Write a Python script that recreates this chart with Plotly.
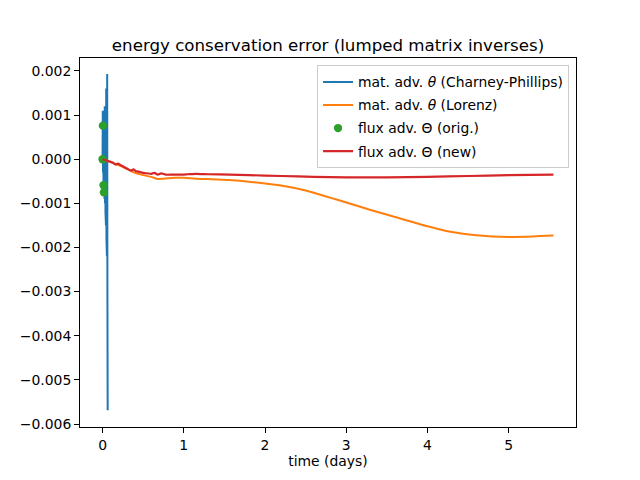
import plotly.graph_objects as go

# Charney-Phillips (material advection theta)
cp_t = [0.000, 0.003, 0.006, 0.009, 0.012, 0.015, 0.018, 0.021, 0.024, 0.027, 0.030,
        0.033, 0.036, 0.039, 0.042, 0.045, 0.048, 0.051, 0.054, 0.057, 0.060, 0.063]
cp_v = [0.0, 0.0011, -0.0003, 0.0006, -0.0006, 0.0009, -0.0008, 0.0010, -0.0009, 0.0012, -0.0010,
        0.0011, -0.0012, 0.0014, -0.0015, 0.0016, -0.0018, 0.0019, -0.0022, 0.00193, -0.0030, -0.00569]

# Lorenz (material advection theta)
lz_t = [0.0, 0.05, 0.12, 0.2, 0.3, 0.4, 0.5, 0.6, 0.68, 0.75, 0.8, 0.9, 1.0, 1.15, 1.3, 1.56,
        1.8, 2.0, 2.18, 2.5, 2.8, 3.0, 3.3, 3.6, 4.0, 4.3, 4.6, 5.0, 5.3, 5.55]
lz_v = [0.0, -0.00003, -0.00008, -0.00014, -0.00022, -0.00031, -0.00036, -0.00040, -0.00045, -0.00044,
        -0.00043, -0.00042, -0.00042, -0.00044, -0.00045, -0.00047, -0.00051, -0.00055, -0.00059,
        -0.00071, -0.00087, -0.00098, -0.00115, -0.00131, -0.00152, -0.00165, -0.00172, -0.00176,
        -0.00175, -0.00173]

# flux advection Theta (orig.)
fo_t = [0.0, 0.004, 0.012, 0.016]
fo_v = [0.0, 0.00076, -0.00059, -0.00075]

# flux advection Theta (new)
fn_t = [0.0, 0.05, 0.1, 0.13, 0.16, 0.19, 0.22, 0.25, 0.3, 0.35, 0.38, 0.41, 0.44, 0.5, 0.55, 0.6,
        0.64, 0.68, 0.72, 0.78, 0.85, 0.95, 1.05, 1.15, 1.3, 1.56, 1.8, 2.2, 2.6, 3.0, 3.5,
        4.0, 4.5, 5.0, 5.55]
fn_v = [0.0, -0.00003, -0.00006, -0.00008, -0.00012, -0.00010, -0.00013, -0.00016, -0.00021, -0.00026, -0.00023,
        -0.00027, -0.00028, -0.00031, -0.00032, -0.00033, -0.00031, -0.00035, -0.00032, -0.00035,
        -0.00035, -0.00035, -0.00034, -0.00033, -0.00034, -0.00035, -0.00036, -0.00038, -0.00040,
        -0.00041, -0.00041, -0.00040, -0.00038, -0.00036, -0.00035]

y_ticks = [0.002, 0.001, 0.0, -0.001, -0.002, -0.003, -0.004, -0.005, -0.006]
y_labels = ["0.002", "0.001", "0.000", "\u22120.001", "\u22120.002", "\u22120.003",
            "\u22120.004", "\u22120.005", "\u22120.006"]
x_ticks = [0, 1, 2, 3, 4, 5]
x_labels = ["0", "1", "2", "3", "4", "5"]

FONT = "DejaVu Sans"

fig = go.Figure()
fig.add_trace(go.Scatter(x=cp_t, y=cp_v, mode="lines", line=dict(color="#1f77b4", width=2),
                         name="mat. adv. <i>θ</i> (Charney-Phillips)", legendgroup="a"))
fig.add_trace(go.Scatter(x=lz_t, y=lz_v, mode="lines", line=dict(color="#ff7f0e", width=2, shape="spline", smoothing=0.6),
                         name="mat. adv. <i>θ</i> (Lorenz)", legendgroup="b"))
fig.add_trace(go.Scatter(x=fo_t, y=fo_v, mode="markers", marker=dict(color="#2ca02c", size=8.3),
                         name="flux adv. Θ (orig.)", legendgroup="c"))
fig.add_trace(go.Scatter(x=fn_t, y=fn_v, mode="lines", line=dict(color="#d62728", width=2.2, shape="spline", smoothing=0.6),
                         name="flux adv. Θ (new)", legendgroup="d"))

axis_common = dict(showline=True, linecolor="black", linewidth=1.1, mirror=True,
                   ticks="outside", ticklen=4.9, tickwidth=1.1, tickcolor="black",
                   showgrid=False, zeroline=False, automargin=False,
                   tickfont=dict(family=FONT, size=13.9, color="black"))

# page body has an 8px default margin, so the figure is 8px smaller and margins shifted
fig.update_layout(
    width=632, height=472,
    margin=dict(l=72, r=64, t=49.6, b=52.8),
    paper_bgcolor="white", plot_bgcolor="white",
    font=dict(family=FONT, size=13.9, color="black"),
    title=dict(text="energy conservation error (lumped matrix inverses)",
               x=0.5, xanchor="center", xref="paper",
               y=0.908, yanchor="bottom", yref="container",
               font=dict(family=FONT, size=16.67, color="black")),
    xaxis=dict(range=[-0.2775, 5.8275], tickvals=x_ticks, ticktext=x_labels,
               title=dict(text="time (days)", standoff=3, font=dict(family=FONT, size=13.9)),
               **axis_common),
    yaxis=dict(range=[-0.006068, 0.002294], tickvals=y_ticks, ticktext=y_labels,
               **axis_common),
    legend=dict(x=0.986, xanchor="right", y=0.98, yanchor="top",
                bgcolor="rgba(255,255,255,0.8)", bordercolor="#cccccc", borderwidth=1,
                font=dict(family=FONT, size=13.9, color="black"), tracegroupgap=2),
    showlegend=True,
)

fig.write_html("out.html")
